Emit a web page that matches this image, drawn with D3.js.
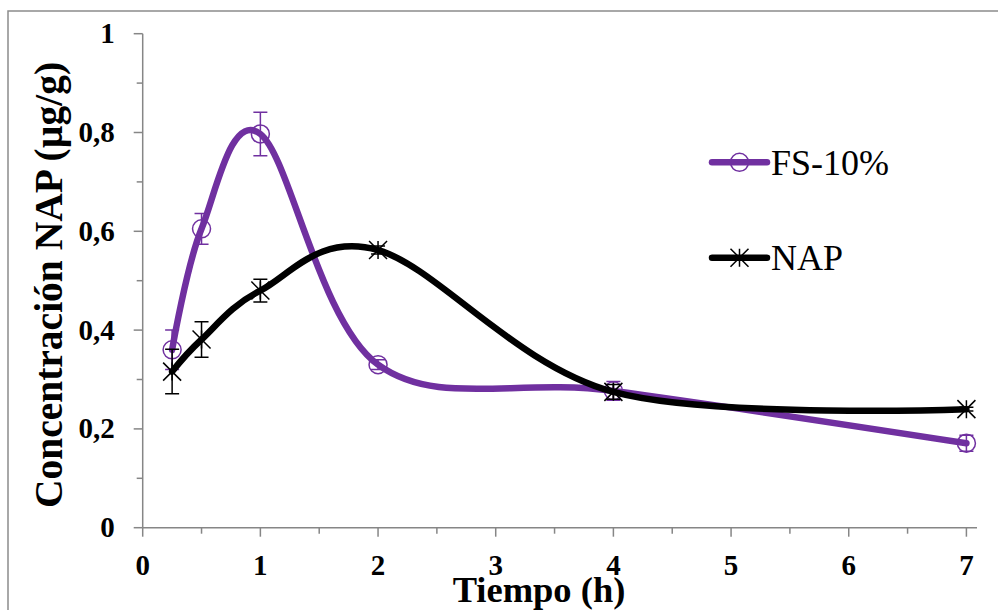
<!DOCTYPE html>
<html>
<head>
<meta charset="utf-8">
<script src="https://cdn.jsdelivr.net/npm/d3@7"></script>
<style>
  body { margin: 0; background: #fff; }
  text { font-family: "Liberation Serif", "Times New Roman", Tinos, "DejaVu Serif", serif; }
</style>
</head>
<body>
<div id="chart"></div>
<script>
// Data
const times = [0.25, 0.5, 1, 2, 4, 7];
const fsValues = [0.36, 0.605, 0.797, 0.33, 0.277, 0.171];
const fsErrors = [0.04, 0.031, 0.044, 0.01, 0.019, 0.016];
const napValues = [0.316, 0.381, 0.48, 0.562, 0.275, 0.24];
const napErrors = [0.045, 0.036, 0.023, 0.008, 0.015, 0.004];
const seriesNames = ["FS-10%", "NAP"];
const xTicks = [0, 1, 2, 3, 4, 5, 6, 7];
const yTicks = [0, 0.2, 0.4, 0.6, 0.8, 1];

const w = 998, h = 610;
const purple = "#7030a0";
const axisGrey = "#868686";
const serif = '"Liberation Serif", "Times New Roman", Tinos, "DejaVu Serif", serif';

const svg = d3.select("#chart").append("svg")
  .attr("width", w).attr("height", h)
  .attr("font-family", serif);

// outer chart frame
svg.append("rect")
  .attr("x", 8).attr("y", 11)
  .attr("width", w + 20).attr("height", h + 20)
  .attr("fill", "none").attr("stroke", "#8c8c8c").attr("stroke-width", 1.5);

// scales
const xScale = d3.scaleLinear().domain([0, 7.09]).range([142.7, 977]);
const yScale = d3.scaleLinear().domain([0, 1]).range([527.7, 33.7]);

// minor ticks
const xMinor = d3.range(0.5, 7, 1);
const yMinor = d3.range(0.1, 1, 0.2);

// x axis
const xAxis = svg.append("g").attr("transform", "translate(0," + yScale(0) + ")");
xAxis.append("line")
  .attr("x1", xScale(0)).attr("x2", xScale(7.09))
  .attr("stroke", axisGrey).attr("stroke-width", 1.5);
xAxis.selectAll(".maj").data(xTicks).enter().append("line")
  .attr("x1", d => xScale(d)).attr("x2", d => xScale(d))
  .attr("y1", 0).attr("y2", 9)
  .attr("stroke", axisGrey).attr("stroke-width", 1.5);
xAxis.selectAll(".min").data(xMinor).enter().append("line")
  .attr("x1", d => xScale(d)).attr("x2", d => xScale(d))
  .attr("y1", 0).attr("y2", 6)
  .attr("stroke", axisGrey).attr("stroke-width", 1.5);
xAxis.selectAll("text").data(xTicks).enter().append("text")
  .attr("x", d => xScale(d)).attr("y", 47)
  .attr("text-anchor", "middle")
  .attr("font-family", serif)
  .attr("font-size", 29).attr("font-weight", "bold")
  .text(d => d);

// y axis
const yAxis = svg.append("g").attr("transform", "translate(" + xScale(0) + ",0)");
yAxis.append("line")
  .attr("y1", yScale(0)).attr("y2", yScale(1))
  .attr("stroke", axisGrey).attr("stroke-width", 1.5);
yAxis.selectAll(".maj").data(yTicks).enter().append("line")
  .attr("y1", d => yScale(d)).attr("y2", d => yScale(d))
  .attr("x1", 0).attr("x2", -9)
  .attr("stroke", axisGrey).attr("stroke-width", 1.5);
yAxis.selectAll(".min").data(yMinor).enter().append("line")
  .attr("y1", d => yScale(d)).attr("y2", d => yScale(d))
  .attr("x1", 0).attr("x2", -6)
  .attr("stroke", axisGrey).attr("stroke-width", 1.5);
yAxis.selectAll("text").data(yTicks).enter().append("text")
  .attr("x", -28).attr("y", d => yScale(d))
  .attr("dy", "0.33em")
  .attr("text-anchor", "end")
  .attr("font-family", serif)
  .attr("font-size", 29).attr("font-weight", "bold")
  .text(d => d3.format("")(d).replace(".", ","));

// axis titles
svg.append("text")
  .attr("x", 539).attr("y", 602)
  .attr("text-anchor", "middle")
  .attr("font-family", serif)
  .attr("font-size", 36.5).attr("font-weight", "bold")
  .text("Tiempo (h)");
svg.append("text")
  .attr("transform", "translate(62,285) rotate(-90)")
  .attr("text-anchor", "middle")
  .attr("font-family", serif)
  .attr("font-size", 39.5).attr("font-weight", "bold")
  .text("Concentración NAP (µg/g)");

// smoothed line like Excel
const line = d3.line()
  .x(d => xScale(d[0])).y(d => yScale(d[1]))
  .curve(d3.curveCardinal.tension(0));

function circleMarker(g, x, y) {
  g.append("circle").attr("cx", x).attr("cy", y).attr("r", 9)
    .attr("fill", "none").attr("stroke", purple).attr("stroke-width", 1.5);
}
function starMarker(g, x, y) {
  const s = 9;
  g.append("path")
    .attr("d", `M${x - s},${y - s}L${x + s},${y + s}M${x - s},${y + s}L${x + s},${y - s}M${x},${y - s}L${x},${y + s}`)
    .attr("stroke", "#000").attr("stroke-width", 1.5).attr("fill", "none");
}

function drawSeries(values, errors, color, marker) {
  const pts = times.map((t, i) => [t, values[i]]);
  const g = svg.append("g");
  g.append("path").datum(pts)
    .attr("d", line)
    .attr("fill", "none").attr("stroke", color)
    .attr("stroke-width", 6.5).attr("stroke-linecap", "round");
  // error bars
  pts.forEach((p, i) => {
    const x = xScale(p[0]);
    const y1 = yScale(p[1] + errors[i]), y2 = yScale(p[1] - errors[i]);
    g.append("path")
      .attr("d", `M${x},${y1}L${x},${y2}M${x - 7},${y1}L${x + 7},${y1}M${x - 7},${y2}L${x + 7},${y2}`)
      .attr("stroke", color).attr("stroke-width", 1.5).attr("fill", "none");
  });
  pts.forEach(p => marker(g, xScale(p[0]), yScale(p[1])));
}

drawSeries(fsValues, fsErrors, purple, circleMarker);
drawSeries(napValues, napErrors, "#000", starMarker);

// legend
const legend = [
  { name: seriesNames[0], color: purple, marker: circleMarker, y: 162.3 },
  { name: seriesNames[1], color: "#000", marker: starMarker, y: 257.7 }
];
legend.forEach(l => {
  const g = svg.append("g");
  g.append("line")
    .attr("x1", 712).attr("x2", 767).attr("y1", l.y).attr("y2", l.y)
    .attr("stroke", l.color).attr("stroke-width", 6.5).attr("stroke-linecap", "round");
  l.marker(g, 739.5, l.y);
  g.append("text")
    .attr("x", 771).attr("y", l.y).attr("dy", "0.34em")
    .attr("font-family", serif)
    .attr("font-size", 36)
    .text(l.name);
});
</script>
</body>
</html>
